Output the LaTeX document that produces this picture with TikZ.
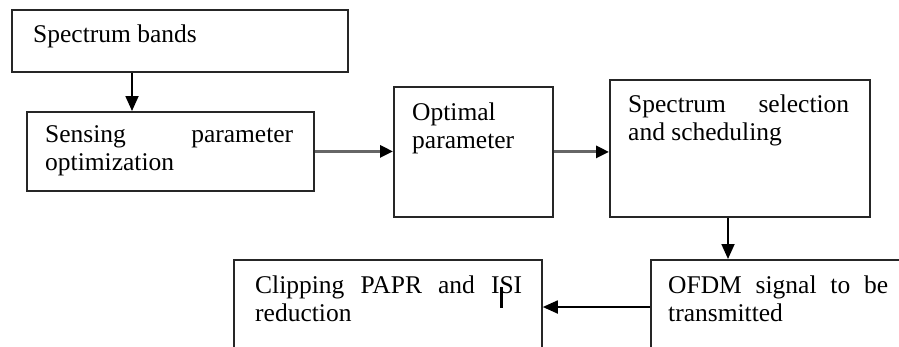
\documentclass[tikz,border=0pt]{standalone}
\usepackage{fontspec}
\setmainfont{Liberation Serif}
\usetikzlibrary{arrows.meta}
\begin{document}
\begin{tikzpicture}[x=1pt,y=-1pt,
  boxst/.style={draw=black!85,line width=1.8pt,rectangle,inner sep=0pt,anchor=north west},
  txt/.style={anchor=north west,inner sep=0pt,align=justify,font=\fontsize{25.5}{28}\selectfont},
  varr/.style={line width=1.8pt,draw=black,-{Triangle[length=15pt,width=13pt]}},
  harr/.style={line width=3pt,draw=black!60,-{Triangle[length=13pt,width=12pt,color=black]}}]
\useasboundingbox (0,0) rectangle (899,346);
% boxes
\node[boxst,minimum width=336pt,minimum height=62pt] (b1) at (11,9) {};
\node[boxst,minimum width=287pt,minimum height=79pt] (b2) at (26,111) {};
\node[boxst,minimum width=159pt,minimum height=130pt] (b3) at (393,86) {};
\node[boxst,minimum width=260pt,minimum height=137pt] (b4) at (609,79) {};
\node[boxst,minimum width=260pt,minimum height=110pt] (b5) at (650,259) {};
\node[boxst,minimum width=308pt,minimum height=110pt] (b6) at (233,259) {};
% texts
\node[txt,text width=300pt] (t1) at (33,22.4) {\strut Spectrum bands};
\node[txt,text width=248pt] (t2) at (45,122.4) {\strut Sensing parameter\linebreak optimization};
\node[txt,text width=130pt] (t3) at (412,100.4) {\strut Optimal\\parameter};
\node[txt,text width=221pt] (t4) at (628,92.4) {\strut Spectrum selection\linebreak and scheduling};
\node[txt,text width=220pt] (t5) at (668,273.4) {\strut OFDM signal to be\linebreak transmitted};
\node[txt,text width=267pt] (t6) at (255,273.4) {\strut Clipping PAPR and ISI\linebreak reduction};
% cursor mark
\fill[black] (499.5,287) rectangle (502.5,308);
% connectors
\draw[varr] ([xshift=121pt]b1.south west) -- ([xshift=106pt]b2.north west);
\draw[harr] (b2.east) -- (b2.east -| b3.west);
\draw[harr] (b3.east) -- (b3.east -| b4.west);
\draw[varr] ([xshift=119pt]b4.south west) -- ([xshift=78pt]b5.north west);
\draw[varr] ([yshift=-48pt]b5.north west) -- ([yshift=-48pt]b6.north east);
\end{tikzpicture}
\end{document}
